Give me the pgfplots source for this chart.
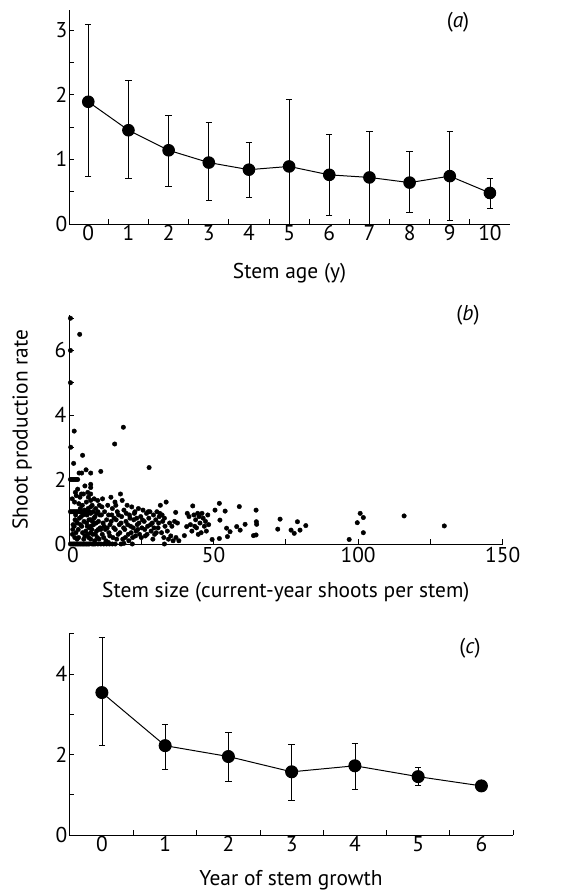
\documentclass[border=0pt]{standalone}
\usepackage{pgfplots}
\pgfplotsset{compat=1.18}
\usepackage{fontspec}
\setmainfont{PT Sans}
\newcommand{\fs}{\fontsize{21.5}{24}\selectfont}
\pgfplotsset{
  myax/.style={
    scale only axis, axis lines=left, axis line style={-, line width=0.8pt},
    tick align=inside, tick style={black, line width=0.8pt},
    major tick length=5bp, minor tick length=5bp,
    clip=false, anchor=south west,
    /pgf/number format/assume math mode=true,
    tick label style={font=\fs},
    yticklabel style={inner sep=1.5bp},
    xticklabel style={inner sep=1.5bp},
    every axis x label/.style={at={(axis description cs:0.5,0)}, anchor=center, font=\fs},
  },
}
\begin{document}
\begin{tikzpicture}[x=1bp,y=1bp]
\path[use as bounding box] (0,0) rectangle (579,892);
% ---------- panel (a)
\begin{axis}[myax, at={(69bp,668bp)}, width=441bp, height=214bp,
  xmin=-0.48, xmax=10.5, ymin=0, ymax=3.31,
  major tick length=0pt,
  xtick={0,...,10}, minor xtick={0.5,1.5,...,9.5},
  ytick={0,1,2,3}, minor ytick={0.5,1,1.5,2,2.5,3},
  xlabel={Stem age (y)}, xlabel style={yshift=-49bp}]
\addplot[black, line width=1pt, mark=*, mark size=5.8bp,
  error bars/.cd, y dir=both, y explicit,
  error bar style={line width=0.7pt},
  error mark options={rotate=90, mark size=3.2bp, line width=0.7pt}]
  table[x=x, y=y, y error plus=ep, y error minus=em] {
x y ep em
0 1.89 1.19 1.16
1 1.45 0.77 0.74
2 1.14 0.54 0.56
3 0.95 0.62 0.59
4 0.84 0.43 0.43
5 0.89 1.04 0.89
6 0.76 0.63 0.63
7 0.72 0.72 0.72
8 0.64 0.48 0.46
9 0.74 0.70 0.69
10 0.48 0.23 0.24
};
\end{axis}
% ---------- panel (b)
\begin{axis}[myax, at={(69bp,348bp)}, width=433.7bp, height=229bp,
  xmin=0, xmax=150, ymin=0, ymax=7.1,
  xtick={50,100,150}, minor xtick={25,75,125},
  extra x ticks={0}, extra x tick style={xticklabel style={xshift=4bp, inner sep=3bp}},
  ytick={0,2,4,6}, minor ytick={1,3,5,7},
  xticklabel style={inner sep=3bp},
  yticklabel style={inner sep=2.5bp},
  xlabel={Stem size (current-year shoots per stem)}, xlabel style={yshift=-48bp},
  ylabel={Shoot production rate},
  every axis y label/.style={at={(axis description cs:-0.108,0.5)}, rotate=90, anchor=center, font=\fs}]
\addplot[only marks, mark=*, mark size=2.25bp, black] table {
x y
0.5 7.0
3.7 6.5
0.5 6.0
0.5 5.0
1.8 3.5
0.6 3.0
4.7 2.75
1.6 2.5
15.8 3.1
18.8 3.62
27.7 2.37
11.0 2.25
3.5 2.2
4.4 2.2
5.9 2.3
7.5 2.2
0.5 2.0
1.0 2.0
1.5 2.0
2.0 2.0
2.5 2.0
3.0 2.0
0.5 1
1 1
1.5 1
2 1
2.5 1
3 1
3.5 1
4 1
4.5 1
5 1
5.5 1
6 1
7 1
0.5 0
1 0
1.5 0
2 0
2.5 0
3 0
3.5 0
4 0
4.5 0
5 0
5.5 0
6 0
6.5 0
7 0
8 0
8.5 0
9 0
10 0
11 0
12 0
13 0
14 0
15 0
16 0
18 0
21.9 0
33 0
19 0.02
7.5 0.15
7.5 0.35
7.5 0.55
7.5 0.75
7.5 0.95
7.5 1.15
7.5 1.35
7.5 1.55
7.5 1.75
7.5 1.85
1.2 0.3
1.8 0.55
2.1 0.75
2.5 1.5
2.2 1.6
3.0 1.7
3.4 1.25
3.8 1.45
4.2 0.85
4.0 0.6
4.6 1.2
5.0 1.55
5.2 0.7
5.5 1.8
5.8 0.4
6.0 1.3
6.2 0.9
6.5 1.6
6.8 0.2
6.3 0.55
5.5 0.25
4.7 0.35
3.2 0.45
2.8 0.15
8.2 0.3
8.5 0.6
8.7 1.4
9.0 0.85
9.2 1.1
9.5 0.4
9.8 0.2
10.2 0.7
10.5 1.2
10.8 0.5
11.2 0.9
11.5 0.3
8.0 1.2
8.3 1.0
8.9 0.1
9.4 0.65
10.0 1.0
6.6 1.1
5.4 1.05
4.9 0.9
3.6 0.8
2.9 0.65
1.9 1.3
2.4 0.35
6.9 0.75
7.9 0.45
8.6 0.8
9.6 0.95
10.4 0.15
11.0 0.45
11.8 0.65
12.3 1.0
12.0 0.2
12.6 0.45
13.0 0.75
13.4 1.2
13.8 0.35
14.2 0.6
14.5 1.45
14.8 0.9
15.2 0.2
15.5 0.5
15.9 1.3
16.3 0.75
16.7 1.0
17.0 0.3
17.4 0.6
17.8 1.55
18.2 0.85
18.6 0.15
19.0 1.05
19.3 0.45
19.7 0.7
20.1 1.2
20.5 0.3
20.9 0.9
21.3 0.55
21.7 1.15
22.0 0.2
22.4 0.75
22.8 1.0
23.2 0.4
23.6 0.6
24.0 1.1
24.4 0.3
24.8 0.85
25.2 0.5
25.6 1.05
26.0 0.7
26.4 0.25
26.8 0.95
27.2 0.55
27.6 0.8
28.0 1.0
28.4 0.4
28.8 0.65
29.2 0.9
29.6 0.3
30.0 0.75
30.4 1.0
30.8 0.5
31.2 0.85
31.6 1.2
32.0 0.35
32.4 0.7
32.8 0.2
33.2 0.55
33.6 1.3
34.0 0.4
34.4 0.15
34.8 0.65
35.2 0.25
35.6 0.55
36.0 0.1
36.5 0.7
37.0 0.2
37.5 0.65
38.0 0.1
2.3 0.9
3.3 0.2
4.3 1.55
5.1 0.15
6.1 0.65
6.7 1.45
8.1 0.7
9.1 0.3
10.1 0.45
10.7 0.9
11.4 1.15
12.1 0.55
12.8 0.1
13.2 0.5
13.7 0.9
14.1 0.25
14.6 0.7
15.0 1.1
15.6 0.8
16.0 0.45
16.5 0.15
17.1 0.9
17.6 0.35
18.0 0.65
18.4 1.35
18.9 0.5
19.5 0.2
20.3 0.6
20.7 0.1
21.1 0.8
21.5 0.35
22.2 0.5
22.6 0.95
23.0 0.25
23.4 0.8
23.8 0.45
24.2 0.65
25.0 0.2
25.4 0.75
26.2 0.45
27.0 0.3
27.4 1.0
28.2 0.6
29.0 0.15
29.4 0.5
30.2 0.35
31.0 0.65
31.4 0.95
32.2 0.9
33.0 0.8
6.4 0.3
7.0 0.5
5.7 0.95
4.4 0.55
3.9 1.1
2.6 0.7
1.4 0.6
1.1 1.4
1.3 0.45
2.0 0.2
9.9 1.35
11.6 1.4
13.6 0.05
16.2 1.2
19.8 0.95
36.9 0.98
39.9 0.26
40.9 0.95
42.8 1.18
40.7 0.54
41.5 0.85
42.0 0.6
42.5 0.4
43.2 0.9
43.8 0.75
44.1 0.5
44.5 0.95
45.0 0.85
45.3 0.65
45.7 0.35
46.0 0.95
46.4 0.8
46.8 0.55
47.2 0.7
47.5 0.4
48.0 0.9
48.3 0.6
44.7 0.3
43.5 0.55
49.5 0.14
50.5 1.05
52.0 1.26
52.0 0.17
52.2 0.74
54.0 1.02
54.5 0.49
54.8 0.23
55.7 0.38
58.0 0.54
58.9 1.16
59.2 0.43
60.9 0.61
63.8 0.26
64.7 1.05
64.8 0.69
64.9 0.61
64.7 0.28
72.2 0.46
73.0 0.77
76.8 0.43
77.9 0.33
79.0 0.69
79.9 0.43
81.9 0.57
96.9 0.14
99.7 0.66
100.7 0.95
101.8 0.82
101.8 0.35
115.9 0.87
129.8 0.56
};
\end{axis}
% ---------- panel (c)
\begin{axis}[myax, at={(69bp,57bp)}, width=444bp, height=202bp,
  xmin=-0.52, xmax=6.5, ymin=0, ymax=5.02,
  major tick length=0pt,
  xtick={0,...,6}, minor xtick={0.5,1.5,...,6.5},
  ytick={0,2,4}, minor ytick={1,2,3,4,5},
  xlabel={Year of stem growth}, xlabel style={yshift=-45bp}]
\addplot[black, line width=1pt, mark=*, mark size=6bp,
  error bars/.cd, y dir=both, y explicit,
  error bar style={line width=0.7pt},
  error mark options={rotate=90, mark size=3.2bp, line width=0.7pt}]
  table[x=x, y=y, y error plus=ep, y error minus=em] {
x y ep em
0 3.54 1.36 1.32
1 2.22 0.54 0.59
2 1.95 0.59 0.62
3 1.57 0.69 0.70
4 1.72 0.57 0.59
5 1.45 0.23 0.21
6 1.22 0.05 0.05
};
\end{axis}
\node[font=\fs] at (458,870) {(\textit{a})};
\node[font=\fs] at (468,577) {(\textit{b})};
\node[font=\fs] at (470,244) {(\textit{c})};
\end{tikzpicture}
\end{document}
